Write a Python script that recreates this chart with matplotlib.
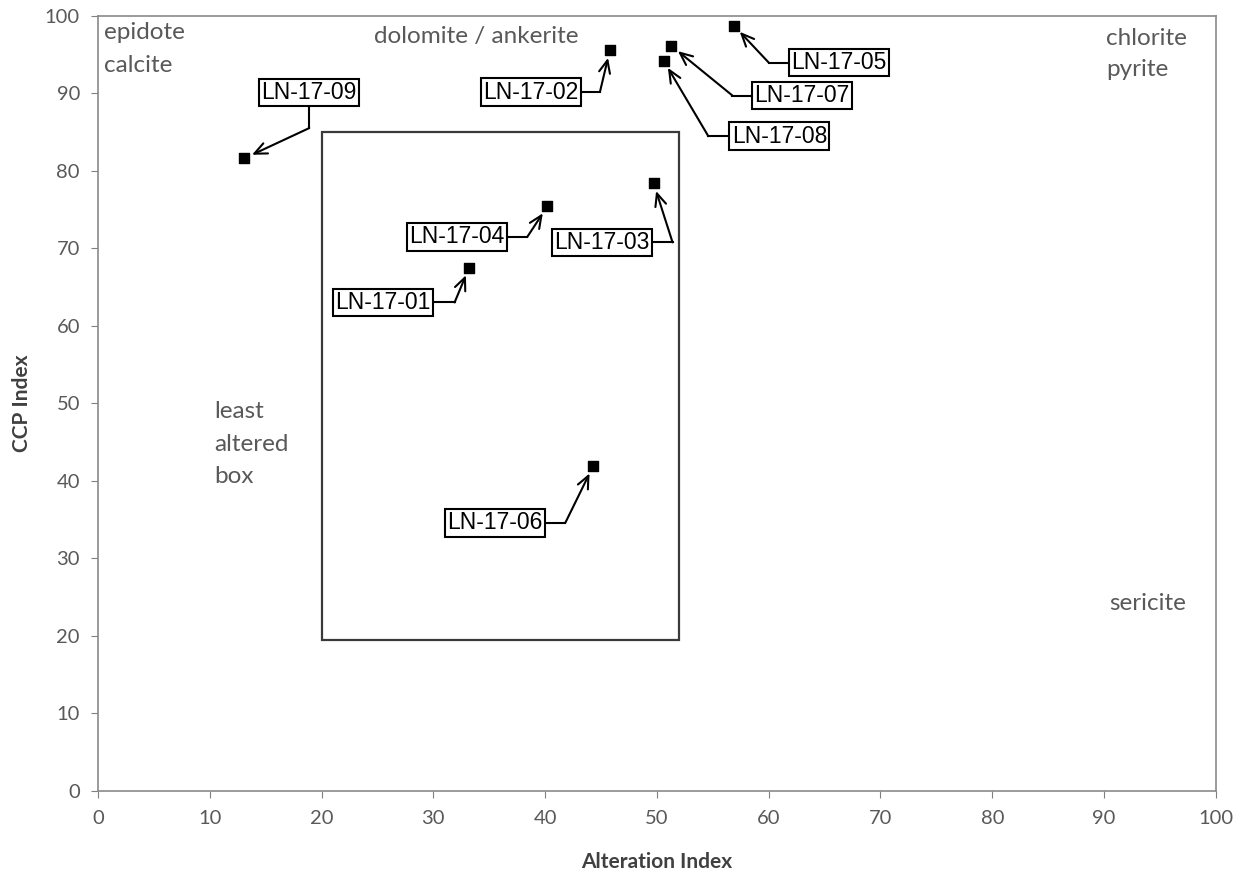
import matplotlib.pyplot as plt
from matplotlib.patches import Rectangle

# sample data
samples = ["LN-17-01", "LN-17-02", "LN-17-03", "LN-17-04", "LN-17-05",
           "LN-17-06", "LN-17-07", "LN-17-08", "LN-17-09"]
alteration_index = [33.2, 45.8, 49.7, 40.2, 56.9, 44.3, 51.3, 50.6, 13.1]
ccp_index = [67.5, 95.6, 78.4, 75.4, 98.7, 41.9, 96.1, 94.2, 81.6]

# least altered box (AI range, CCPI range)
box_ai = (20, 52)
box_ccpi = (19.5, 85)

# label layout: label centre and elbow point of the leader
label_xy = [(25.5, 63.0), (38.7, 90.15), (45.1, 70.75), (32.1, 71.45), (66.3, 93.95),
            (35.5, 34.55), (63.0, 89.7), (60.95, 84.45), (18.9, 90.1)]
elbow_xy = [(31.9, 63.0), (44.9, 90.15), (51.4, 70.75), (38.4, 71.45), (60.0, 93.95),
            (41.8, 34.55), (56.75, 89.7), (54.6, 84.45), (18.9, 85.5)]

gray = "#595959"
plt.rcParams['font.family'] = ['Lato', 'DejaVu Sans']

fig = plt.figure(figsize=(12.47, 8.71), dpi=100)
ax = fig.add_axes([0.0786, 0.0922, 0.8964, 0.8898])
ax.set_xlim(0, 100)
ax.set_ylim(0, 100)
ax.set_xticks(range(0, 101, 10))
ax.set_yticks(range(0, 101, 10))
ax.tick_params(labelsize=14.5, colors=gray, length=5, direction='out')
ax.tick_params(axis='x', pad=9)
ax.tick_params(axis='y', pad=8)
ax.tick_params(axis='both', color='#808080')
for s in ax.spines.values():
    s.set_color('#8a8a8a')
    s.set_linewidth(1.2)

ax.set_xlabel("Alteration Index", fontsize=15, fontweight='bold', color='#404040', labelpad=18)
ax.set_ylabel("CCP Index", fontsize=15, fontweight='bold', color='#404040', labelpad=9)

ax.add_patch(Rectangle((box_ai[0], box_ccpi[0]), box_ai[1] - box_ai[0], box_ccpi[1] - box_ccpi[0],
                       fill=False, edgecolor='#3a3a3a', lw=1.6, zorder=2))

ax.scatter(alteration_index, ccp_index, marker='s', s=55, color='black', zorder=5)

for name, x, y, (lx, ly), (ex, ey) in zip(samples, alteration_index, ccp_index, label_xy, elbow_xy):
    ax.plot([lx, ex], [ly, ey], color='black', lw=1.5, zorder=3)
    ax.annotate("", xy=(x, y), xytext=(ex, ey),
                arrowprops=dict(arrowstyle='->,head_length=0.9,head_width=0.4', color='black',
                                lw=1.5, shrinkA=0, shrinkB=6), zorder=3)
    ax.text(lx, ly, name, fontsize=16.5, family=['Liberation Sans', 'DejaVu Sans'],
            ha='center', va='center', zorder=4,
            bbox=dict(boxstyle='square,pad=0.1', facecolor='white', edgecolor='black', lw=1.5))

# field names
rt = dict(fontsize=17.5, color=gray, va='center', ha='left')
ax.text(0.5, 97.8, "epidote", **rt)
ax.text(0.5, 93.6, "calcite", **rt)
ax.text(24.7, 97.3, "dolomite / ankerite", **rt)
ax.text(90.2, 97.0, "chlorite", **rt)
ax.text(90.2, 93.0, "pyrite", **rt)
ax.text(10.4, 48.9, "least", **rt)
ax.text(10.4, 44.7, "altered", **rt)
ax.text(10.4, 40.5, "box", **rt)
ax.text(90.5, 24.1, "sericite", **rt)

fig.savefig("out.png", dpi=100)
